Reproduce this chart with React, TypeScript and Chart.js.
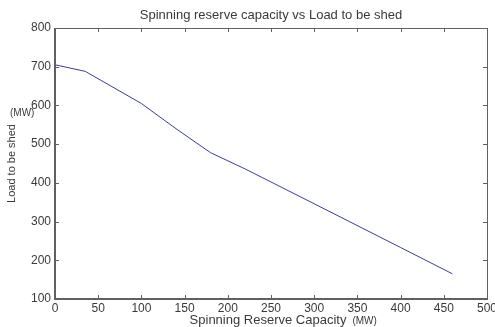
import React, { useEffect, useRef } from "react";
import { Chart, registerables } from "chart.js";

Chart.register(...registerables);

const capacityMW = [0, 35, 100, 140, 180, 220, 300, 400, 460];
const loadShedMW = [705, 688, 605, 540, 478, 436, 346, 233, 165];
const xTickMin = 0;
const xTickMax = 500;
const xTickStep = 50;
const yTickMin = 100;
const yTickMax = 800;
const yTickStep = 100;
const titleText = "Spinning reserve capacity vs Load to be shed";
const xTitle = "Spinning Reserve Capacity";
const yTitle = "Load to be shed";
const unitText = "(MW)";

const FONT = "'Liberation Sans', Arial, sans-serif";
const TEXT = "#3a3a3a";
const AXIS = "#606060";

const boxPlugin = {
  id: "matlabBox",
  afterDraw(chart: any) {
    const { ctx, chartArea: a, scales } = chart;
    ctx.save();
    ctx.strokeStyle = AXIS;
    ctx.lineWidth = 1;
    ctx.strokeRect(a.left + 0.5, a.top + 0.5, a.right - a.left, a.bottom - a.top);
    ctx.lineWidth = 2;
    ctx.beginPath();
    ctx.moveTo(a.left, a.top);
    ctx.lineTo(a.left, a.bottom);
    ctx.lineTo(a.right, a.bottom);
    ctx.stroke();
    ctx.lineWidth = 1;
    const len = 4;
    ctx.beginPath();
    scales.x.ticks.forEach((t: any) => {
      const px = Math.round(scales.x.getPixelForValue(t.value)) + 0.5;
      ctx.moveTo(px, a.bottom);
      ctx.lineTo(px, a.bottom - len);
      ctx.moveTo(px, a.top);
      ctx.lineTo(px, a.top + len);
    });
    scales.y.ticks.forEach((t: any) => {
      const py = Math.round(scales.y.getPixelForValue(t.value)) + 0.5;
      ctx.moveTo(a.left, py);
      ctx.lineTo(a.left + len, py);
      ctx.moveTo(a.right, py);
      ctx.lineTo(a.right - len, py);
    });
    ctx.stroke();
    const cx = (a.left + a.right) / 2;
    ctx.fillStyle = TEXT;
    ctx.textBaseline = "middle";
    // chart title
    ctx.font = `13px ${FONT}`;
    ctx.textAlign = "center";
    ctx.fillText(titleText, cx, 15);
    // x axis title
    ctx.fillText(xTitle, cx - 3, 320);
    const w = ctx.measureText(xTitle).width;
    ctx.font = `10px ${FONT}`;
    ctx.textAlign = "left";
    ctx.fillText(unitText, cx - 3 + w / 2 + 6, 321);
    // y unit
    ctx.fillText(unitText, 10, 113);
    ctx.restore();
  },
};

export default function App() {
  const ref = useRef<HTMLCanvasElement>(null);
  useEffect(() => {
    document.body.style.margin = "0";
    const chart = new Chart(ref.current!, {
      type: "line",
      data: {
        datasets: [
          {
            data: capacityMW.map((x, i) => ({ x, y: loadShedMW[i] })),
            borderColor: "#3a3aa6",
            borderWidth: 1,
            pointRadius: 0,
            tension: 0,
            fill: false,
          },
        ],
      },
      options: {
        animation: false,
        responsive: false,
        maintainAspectRatio: false,
        layout: { padding: { left: 0, right: 8, top: 28, bottom: 0 } },
        plugins: {
          legend: { display: false },
          tooltip: { enabled: false },
          title: { display: false },
        },
        scales: {
          x: {
            type: "linear",
            min: xTickMin,
            max: xTickMax,
            ticks: {
              stepSize: xTickStep,
              color: TEXT,
              font: { family: FONT, size: 12 },
              padding: 2,
              maxRotation: 0,
              autoSkip: false,
            },
            grid: { display: false, drawTicks: false },
            border: { display: false },
            title: { display: false },
            afterFit: (s: any) => {
              s.height = 28;
              s.paddingLeft = 0;
              s.paddingRight = 0;
            },
          },
          y: {
            type: "linear",
            min: yTickMin,
            max: yTickMax,
            ticks: {
              stepSize: yTickStep,
              color: TEXT,
              font: { family: FONT, size: 12 },
              padding: 4,
            },
            grid: { display: false, drawTicks: false },
            border: { display: false },
            title: {
              display: true,
              text: yTitle,
              color: TEXT,
              font: { family: FONT, size: 11 },
              padding: { top: 5, bottom: 0 },
            },
            afterFit: (s: any) => {
              s.width = 55;
            },
          },
        },
      },
      plugins: [boxPlugin],
    });
    return () => chart.destroy();
  }, []);
  return (
    <div style={{ position: "fixed", left: 0, top: 0, width: 495, height: 327, background: "#fff" }}>
      <canvas ref={ref} width={495} height={327} style={{ width: 495, height: 327 }} />
    </div>
  );
}
